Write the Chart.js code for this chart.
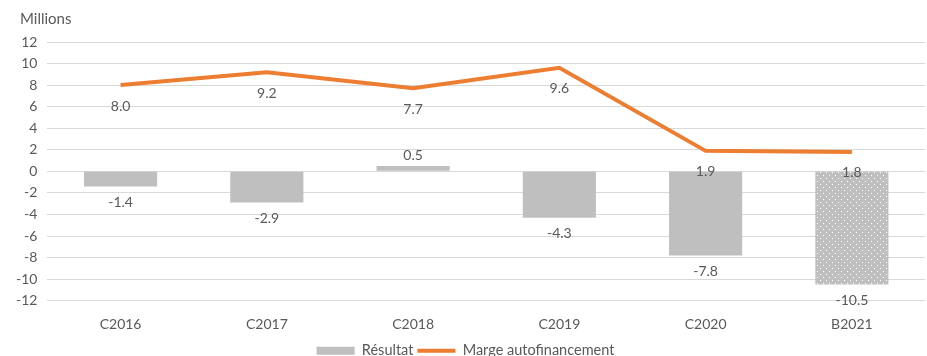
<!DOCTYPE html>
<html>
<head>
<meta charset="utf-8">
<script src="https://cdn.jsdelivr.net/npm/chart.js@4"></script>
<style>
  html, body { margin: 0; padding: 0; background: #fff; overflow: hidden; }
  #wrap { width: 927px; height: 368px; }
</style>
</head>
<body>
<div id="wrap"><canvas id="chart"></canvas></div>
<script>
// values (millions)
const categories = ['C2016', 'C2017', 'C2018', 'C2019', 'C2020', 'B2021'];
const resultat = [-1.4, -2.9, 0.5, -4.3, -7.8, -10.5];
const marge = [8.0, 9.2, 7.7, 9.6, 1.9, 1.8];

const textColor = '#595959';
const barGrey = '#bfbfbf';
const orange = '#ED7D31';

// dotted fill for the budget bar
function makeDots() {
    const c = document.createElement('canvas');
    c.width = 6;
    c.height = 6;
    const g = c.getContext('2d');
    g.fillStyle = barGrey;
    g.fillRect(0, 0, 6, 6);
    g.fillStyle = '#ffffff';
    g.fillRect(1, 1, 1, 1);
    g.fillRect(4, 4, 1, 1);
    return g.createPattern(c, 'repeat');
}
const dots = makeDots();

// draws "Millions" and the value labels
const labelsPlugin = {
    id: 'labels',
    afterDatasetsDraw(chart) {
        const ctx = chart.ctx;
        ctx.save();
        ctx.fillStyle = textColor;
        ctx.font = '14px Lato';
        ctx.textAlign = 'center';
        ctx.textBaseline = 'middle';

        chart.getDatasetMeta(0).data.forEach((bar, i) => {
            const v = resultat[i];
            const y = v < 0 ? bar.y + 16 : bar.y - 10;
            ctx.fillText(v.toFixed(1), bar.x, y);
        });
        chart.getDatasetMeta(1).data.forEach((pt, i) => {
            ctx.fillText(marge[i].toFixed(1), pt.x, pt.y + 21);
        });

        ctx.font = '15px Lato';
        ctx.textAlign = 'left';
        ctx.fillText('Millions', 20, 19);
        ctx.restore();
    }
};

new Chart(document.getElementById('chart').getContext('2d'), {
    type: 'bar',
    data: {
        labels: categories,
        datasets: [
            {
                type: 'bar',
                label: 'Résultat',
                data: resultat,
                backgroundColor: resultat.map((v, i) => i === resultat.length - 1 ? dots : barGrey),
                barPercentage: 1,
                categoryPercentage: 0.5,
                order: 2
            },
            {
                type: 'line',
                label: 'Marge autofinancement',
                data: marge,
                borderColor: orange,
                backgroundColor: orange,
                borderWidth: 4,
                pointRadius: 0,
                tension: 0,
                order: 1
            }
        ]
    },
    options: {
        responsive: true,
        maintainAspectRatio: false,
        animation: false,
        layout: { padding: { top: 42, right: 2, left: 6, bottom: 0 } },
        scales: {
            x: {
                grid: { display: false },
                border: { display: false },
                ticks: { color: textColor, font: { family: 'Lato', size: 14 }, padding: 7 }
            },
            y: {
                min: -12,
                max: 12,
                ticks: { stepSize: 2, color: textColor, font: { family: 'Lato', size: 14 }, padding: 10 },
                grid: { color: '#d9d9d9', drawTicks: false },
                border: { display: false }
            }
        },
        plugins: {
            tooltip: { enabled: false },
            legend: {
                position: 'bottom',
                labels: {
                    color: textColor,
                    font: { family: 'Lato', size: 14.5 },
                    usePointStyle: true,
                    pointStyleWidth: 38,
                    boxHeight: 8,
                    padding: 4,
                    generateLabels() {
                        return [
                            { text: 'Résultat', fillStyle: barGrey, strokeStyle: barGrey, lineWidth: 0, pointStyle: 'rect', fontColor: textColor },
                            { text: 'Marge autofinancement', fillStyle: orange, strokeStyle: orange, lineWidth: 4, pointStyle: 'line', fontColor: textColor }
                        ];
                    }
                }
            }
        }
    },
    plugins: [labelsPlugin]
});
</script>
</body>
</html>
